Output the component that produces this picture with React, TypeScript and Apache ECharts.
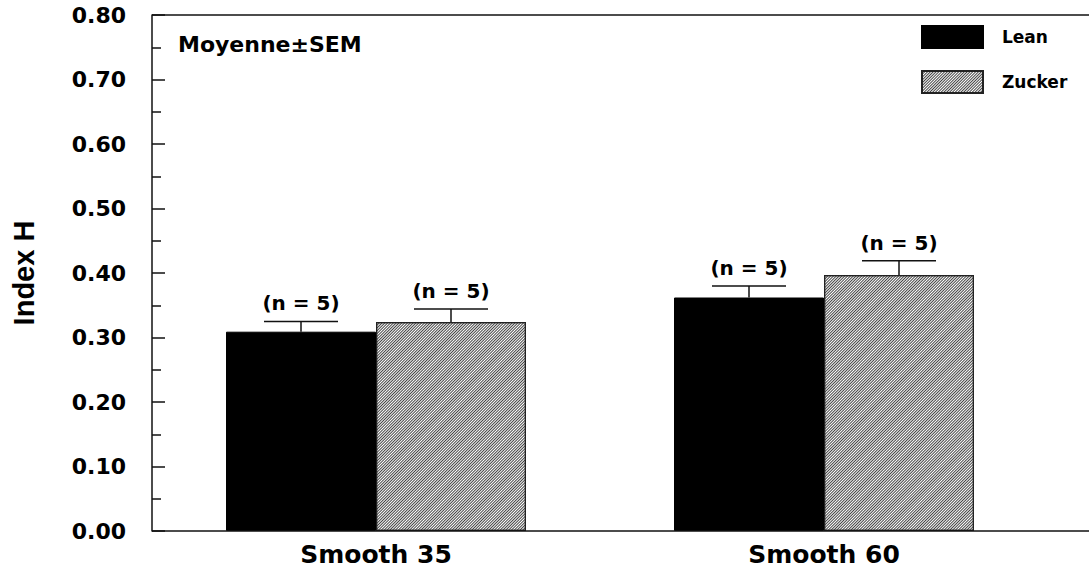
import React, { useEffect, useRef } from "react";
import * as echarts from "echarts";

const categories = ["Smooth 35", "Smooth 60"];
const leanValues = [0.309, 0.362];
const leanSem = [0.016, 0.018];
const zuckerValues = [0.324, 0.397];
const zuckerSem = [0.02, 0.022];
const nLabels = ["(n = 5)", "(n = 5)"];
const seriesNames = ["Lean", "Zucker"];

const FONT = "'DejaVu Sans', Verdana, sans-serif";
const BAR_W = 150;

function errorSeries(name: string, values: number[], sem: number[], offset: number) {
  return {
    type: "custom",
    name: name + " SEM",
    silent: true,
    z: 5,
    data: values.map((v, i) => [i, v, v + sem[i], nLabels[i]]),
    renderItem: (params: any, api: any) => {
      const idx = api.value(0);
      const base = api.coord([idx, api.value(1)]);
      const top = api.coord([idx, api.value(2)]);
      const x = base[0] + offset;
      const half = 37;
      const style = { stroke: "#111", lineWidth: 1.5 };
      return {
        type: "group",
        children: [
          { type: "line", shape: { x1: x, y1: base[1], x2: x, y2: top[1] }, style },
          { type: "line", shape: { x1: x - half, y1: top[1], x2: x + half, y2: top[1] }, style },
          {
            type: "text",
            x: x,
            y: top[1] - 8,
            style: {
              text: nLabels[params.dataIndex],
              fill: "#000",
              font: `bold 20px ${FONT}`,
              textAlign: "center",
              textVerticalAlign: "bottom",
            },
          },
        ],
      };
    },
  };
}

export default function App() {
  const ref = useRef<HTMLDivElement>(null);
  useEffect(() => {
    if (!ref.current) return;
    const chart = echarts.init(ref.current, undefined, { renderer: "svg" });
    const axisColor = "#111";
    chart.setOption({
      animation: false,
      backgroundColor: "#fff",
      grid: { left: 152, right: 41, top: 15, bottom: 41, containLabel: false },
      legend: {
        orient: "vertical",
        left: 921,
        top: 25,
        padding: 0,
        itemWidth: 61,
        itemHeight: 22,
        itemGap: 21,
        icon: "rect",
        textStyle: { fontFamily: FONT, fontWeight: "bold", fontSize: 17, color: "#000", padding: [0, 0, 0, 14] },
        data: seriesNames,
      },
      xAxis: {
        type: "category",
        data: categories,
        boundaryGap: true,
        axisLine: { show: false },
        axisTick: { show: false },
        axisLabel: { fontFamily: FONT, fontWeight: "bold", fontSize: 25, color: "#000", margin: 11 },
      },
      yAxis: {
        type: "value",
        min: 0,
        max: 0.8,
        interval: 0.1,
        name: "Index H",
        nameLocation: "middle",
        nameGap: 114,
        nameTextStyle: { fontFamily: "'Liberation Sans', Arial, sans-serif", fontWeight: "bold", fontSize: 29, color: "#000" },
        axisLine: { show: true, lineStyle: { color: axisColor, width: 1.5 } },
        axisTick: { show: true, inside: true, length: 13, lineStyle: { color: axisColor, width: 1.5 } },
        minorTick: { show: true, splitNumber: 2, length: 9, lineStyle: { color: axisColor, width: 1.5 } },
        splitLine: { show: false },
        axisLabel: {
          fontFamily: FONT,
          fontWeight: "bold",
          fontSize: 22,
          color: "#000",
          margin: 26,
          formatter: (v: number) => v.toFixed(2),
        },
      },
      graphic: [
        { type: "line", shape: { x1: 152, y1: 15, x2: 1089, y2: 15 }, style: { stroke: axisColor, lineWidth: 1.5 }, z: 10 },
        { type: "line", shape: { x1: 152, y1: 531, x2: 1089, y2: 531 }, style: { stroke: axisColor, lineWidth: 1.5 }, z: 10 },
        {
          type: "text",
          left: 178,
          top: 33,
          style: { text: "Moyenne±SEM", fill: "#000", font: `bold 22px ${FONT}` },
        },
      ],
      series: [
        {
          type: "bar",
          name: seriesNames[0],
          data: leanValues,
          barWidth: BAR_W,
          barGap: "0%",
          itemStyle: { color: "#000", borderColor: "#000", borderWidth: 1 },
        },
        {
          type: "bar",
          name: seriesNames[1],
          data: zuckerValues,
          barWidth: BAR_W,
          barGap: "0%",
          itemStyle: {
            color: "#fff",
            borderColor: "#222",
            borderWidth: 1.2,
            decal: {
              symbol: "rect",
              symbolSize: 1,
              color: "#444",
              backgroundColor: "#fff",
              dashArrayX: [1, 0],
              dashArrayY: [0.9, 1],
              rotation: -Math.PI / 4,
            },
          },
        },
        errorSeries("Lean", leanValues, leanSem, -BAR_W / 2),
        errorSeries("Zucker", zuckerValues, zuckerSem, BAR_W / 2),
      ],
    });
    return () => chart.dispose();
  }, []);
  return <div ref={ref} style={{ width: 1089, height: 572, position: "absolute", left: 0, top: 0 }} />;
}
